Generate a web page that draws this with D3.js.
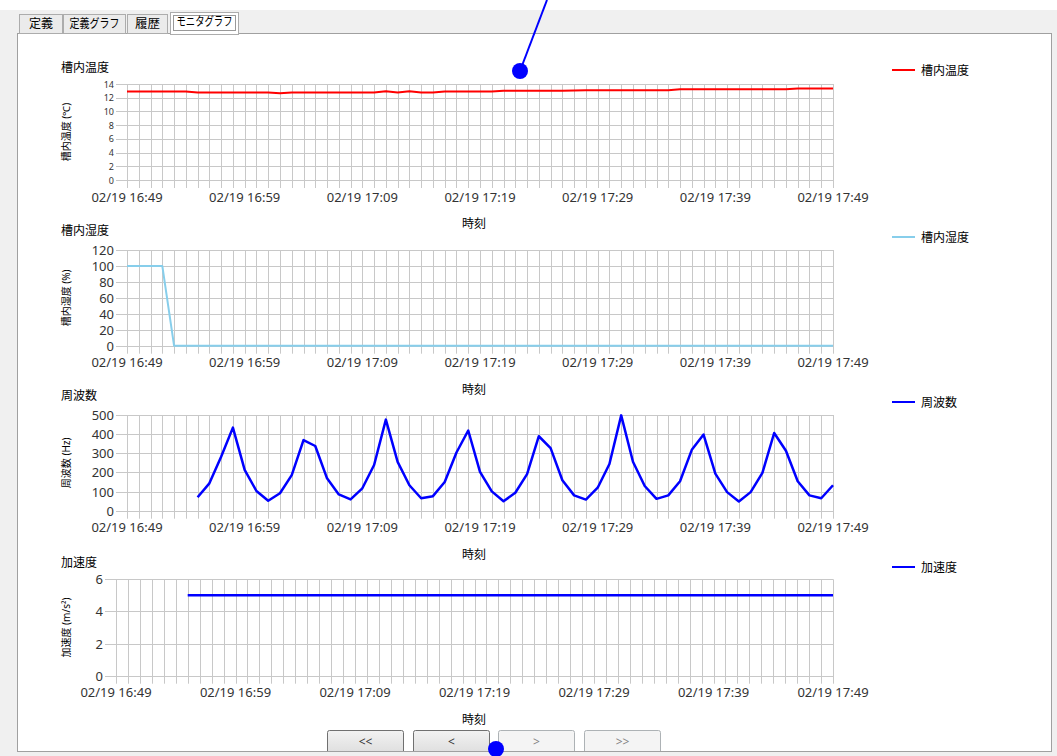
<!DOCTYPE html>
<html><head><meta charset="utf-8">
<script src="https://cdn.jsdelivr.net/npm/d3@7"></script>
<style>
html,body{margin:0;padding:0;background:#f0f0f0;overflow:hidden;}
svg{display:block;font-family:"Noto Sans","Noto Sans CJK JP",sans-serif;}
</style></head><body>
<svg id="c" width="1057" height="756"></svg>
<script>
// ---- data ----
const startTime = "2020/02/19 16:49";
const xTickLabels = ["02/19 16:49","02/19 16:59","02/19 17:09","02/19 17:19","02/19 17:29","02/19 17:39","02/19 17:49"];
const tempValues = [12.9,12.9,12.9,12.9,12.9,12.9,
  12.75,12.75,12.75,12.75,12.75,12.75,12.75,
  12.65,
  12.75,12.75,12.75,12.75,12.75,12.75,12.75,12.75,
  12.95,12.75,12.95,12.75,12.75,
  12.9,12.9,12.9,12.9,12.9,
  13.0,13.0,13.0,13.0,13.0,13.0,
  13.05,
  13.1,13.1,13.1,13.1,13.1,13.1,13.1,13.1,
  13.25,13.25,13.25,13.25,13.25,13.25,13.25,13.25,13.25,13.25,
  13.35,13.35,13.35,13.35];
const humidValues = [100,100,100,100,0,0,0,0,0,0,0,0,0,0,0,0,0,0,0,0,0,0,0,0,0,0,0,0,0,0,0,0,0,0,0,0,0,0,0,0,0,0,0,0,0,0,0,0,0,0,0,0,0,0,0,0,0,0,0,0,0];
const freqValues = [null,null,null,null,null,null,
  70,143,282,434,213,103,52,91,186,369,338,169,85,59,117,239,476,255,133,65,76,150,304,419,203,101,49,94,191,389,327,159,80,58,120,244,498,256,129,62,80,154,318,398,194,97,48,97,198,406,313,154,80,65,133];
const accelValues = [null,null,null,null,null,null,
  5,5,5,5,5,5,5,5,5,5,5,5,5,5,5,5,5,5,5,5,5,5,5,5,5,5,5,5,5,5,5,5,5,5,5,5,5,5,5,5,5,5,5,5,5,5,5,5,5,5,5,5,5,5,5];
const seriesNames = ["槽内温度","槽内湿度","周波数","加速度"];
const yTitles = ["槽内温度 (℃)","槽内湿度 (%)","周波数 (Hz)","加速度 (m/s²)"];
const yMaxes = [14,120,500,6];
const ySteps = [2,20,100,2];
const tabLabels = ["定義","定義グラフ","履歴","モニタグラフ"];
const buttonLabels = ["<<","<",">",">>"];

// ---- drawing ----
const parse = d3.timeParse("%Y/%m/%d %H:%M");
const t0 = parse(startTime);
const times = tempValues.map((_, i) => d3.timeMinute.offset(t0, i));
const tickTimes = xTickLabels.map(s => parse("2020/" + s));
const fmt = d3.timeFormat("%m/%d %H:%M");

const svg = d3.select("#c");
// window chrome
svg.append("rect").attr("x",0).attr("y",0).attr("width",1057).attr("height",756).attr("fill","#f0f0f0");
svg.append("rect").attr("x",0).attr("y",0).attr("width",1057).attr("height",10).attr("fill","#ffffff");
svg.append("rect").attr("x",17.5).attr("y",33.5).attr("width",1034).attr("height",718)
  .attr("fill","#ffffff").attr("stroke","#a0a0a0");

// tabs
const tabs = [{x:19,w:44,tw:24},{x:63,w:63,tw:50},{x:127,w:41,tw:25},{x:170,w:69,tw:56}];
tabs.forEach((t, i) => {
  const sel = i === 3;
  const g = svg.append("g");
  const y = sel ? 12.5 : 14.5;
  g.append("rect").attr("x", t.x + 0.5).attr("y", y).attr("width", t.w - 1).attr("height", 33.5 - y + (sel ? 1 : 0))
    .attr("fill", sel ? "#ffffff" : "#ebebeb").attr("stroke", "#acacac");
  if (sel) {
    g.append("rect").attr("x", t.x + 3.5).attr("y", 15.5).attr("width", t.w - 7).attr("height", 15)
      .attr("fill","none").attr("stroke","#333").attr("stroke-dasharray","1,1");
  }
  g.append("text").attr("x", t.x + t.w/2).attr("y", sel ? 23 : 24.5).attr("text-anchor","middle")
    .attr("dominant-baseline","middle").attr("font-size", 12).attr("fill","#000")
    .attr("textLength", t.tw).attr("lengthAdjust","spacingAndGlyphs").text(tabLabels[i]);
});

const layouts = [
  {left:127, top:84,   bottom:180,   tickFont:9,  titleY:67,  color:"#ff0000", width:2},
  {left:127, top:250,  bottom:345.7, tickFont:13, titleY:230, color:"#87ceeb", width:2},
  {left:127, top:415,  bottom:510.7, tickFont:13, titleY:395, color:"#0000ff", width:2.5},
  {left:116, top:579.3,bottom:675.7, tickFont:13, titleY:562, color:"#0000ff", width:2.5}
];
const allValues = [tempValues, humidValues, freqValues, accelValues];
const right = 833;
const legendYs = [70, 237, 402, 567];

layouts.forEach((L, k) => {
  const g = svg.append("g");
  const x = d3.scaleTime().domain([t0, times[times.length-1]]).range([L.left, right]);
  const y = d3.scaleLinear().domain([0, yMaxes[k]]).range([L.bottom, L.top]);
  const grid = "#c8c8c8";
  // vertical gridlines every minute, extend below as ticks
  g.append("g").selectAll("line").data(times).join("line")
    .attr("x1", d => Math.round(x(d)) + 0.5).attr("x2", d => Math.round(x(d)) + 0.5)
    .attr("y1", L.top).attr("y2", L.bottom + 8).attr("stroke", grid).attr("stroke-width", 1);
  // horizontal gridlines
  const yt = d3.range(0, yMaxes[k] + 0.0001, ySteps[k]);
  g.append("g").selectAll("line").data(yt).join("line")
    .attr("x1", L.left - 11).attr("x2", right)
    .attr("y1", d => Math.round(y(d)) + 0.5).attr("y2", d => Math.round(y(d)) + 0.5)
    .attr("stroke", grid).attr("stroke-width", 1);
  // y tick labels
  g.append("g").selectAll("text").data(yt).join("text")
    .attr("x", L.left - 13).attr("y", d => y(d)).attr("text-anchor","end")
    .attr("dominant-baseline","central").attr("font-size", L.tickFont).attr("fill","#333")
    .text(d => d);
  // x tick labels
  g.append("g").selectAll("text").data(tickTimes).join("text")
    .attr("x", d => x(d)).attr("y", L.bottom + 16.5).attr("text-anchor","middle")
    .attr("dominant-baseline","central").attr("font-size", 13).attr("fill","#333")
    .text(d => fmt(d));
  // x axis title
  g.append("text").attr("x", 474).attr("y", L.bottom + 43.5).attr("text-anchor","middle")
    .attr("dominant-baseline","central").attr("font-size", 12).attr("fill","#000").text("時刻");
  // chart title
  g.append("text").attr("x", 61).attr("y", L.titleY).attr("dominant-baseline","central")
    .attr("font-size", 12).attr("fill","#000").text(seriesNames[k]);
  // y axis title
  const cy = (L.top + L.bottom) / 2;
  g.append("text").attr("transform", `translate(66,${cy}) rotate(-90)`).attr("text-anchor","middle")
    .attr("dominant-baseline","central").attr("font-size", 10).attr("fill","#000").text(yTitles[k]);
  // series line
  const line = d3.line().defined(d => d[1] != null).x(d => x(d[0])).y(d => y(d[1]));
  g.append("path").datum(times.map((t, i) => [t, allValues[k][i]]))
    .attr("d", line).attr("fill","none").attr("stroke", L.color).attr("stroke-width", L.width)
    .attr("stroke-linejoin","round");
  // legend
  g.append("line").attr("x1", 892).attr("x2", 915).attr("y1", legendYs[k]).attr("y2", legendYs[k])
    .attr("stroke", L.color).attr("stroke-width", 2);
  g.append("text").attr("x", 921).attr("y", legendYs[k]).attr("dominant-baseline","central")
    .attr("font-size", 12).attr("fill","#000").text(seriesNames[k]);
});

// buttons
const btnX = [327, 413, 498, 584];
buttonLabels.forEach((b, i) => {
  const en = i < 2;
  const g = svg.append("g");
  const grad = "bg" + i;
  const lg = svg.append("defs").append("linearGradient").attr("id", grad).attr("x1",0).attr("x2",0).attr("y1",0).attr("y2",1);
  lg.append("stop").attr("offset","0").attr("stop-color", en ? "#f2f2f2" : "#f4f4f4");
  lg.append("stop").attr("offset","1").attr("stop-color", en ? "#dddddd" : "#f4f4f4");
  g.append("rect").attr("x", btnX[i] + 0.5).attr("y", 730.5).attr("width", 76).attr("height", 24).attr("rx", 2)
    .attr("fill", `url(#${grad})`).attr("stroke", en ? "#707070" : "#adb2b5");
  g.append("text").attr("x", btnX[i] + 38.5).attr("y", 741).attr("text-anchor","middle")
    .attr("dominant-baseline","central").attr("font-size", 12).attr("fill", en ? "#333" : "#838383").text(b);
});
svg.append("line").attr("x1",17).attr("x2",1052).attr("y1",751.5).attr("y2",751.5).attr("stroke","#a0a0a0");
svg.append("rect").attr("x",0).attr("y",752).attr("width",1057).attr("height",4).attr("fill","#f0f0f0");

// annotation marks
svg.append("line").attr("x1", 547).attr("y1", 0).attr("x2", 520).attr("y2", 71).attr("stroke","#0000ff").attr("stroke-width", 2);
svg.append("circle").attr("cx", 520).attr("cy", 71).attr("r", 8).attr("fill","#0000ff");
svg.append("circle").attr("cx", 496).attr("cy", 749).attr("r", 8).attr("fill","#0000ff");
</script>
</body></html>
